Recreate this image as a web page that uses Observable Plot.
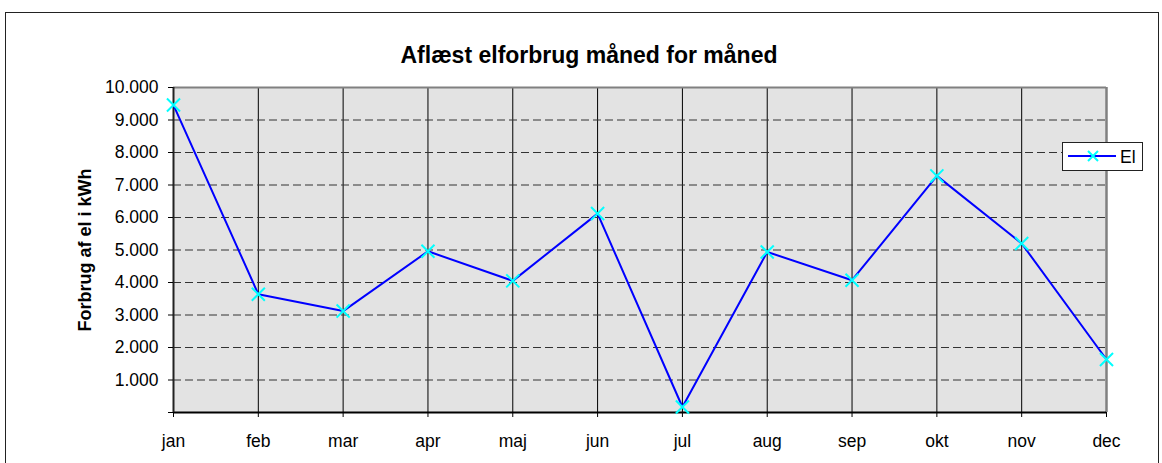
<!DOCTYPE html>
<html>
<head>
<meta charset="utf-8">
<script src="https://cdn.jsdelivr.net/npm/d3@7"></script>
<script src="https://cdn.jsdelivr.net/npm/@observablehq/plot@0.6"></script>
<style>
  html, body { margin: 0; padding: 0; background: #fff; }
  #wrap { position: relative; width: 1162px; height: 463px; overflow: hidden; font-family: "Liberation Sans", Arial, sans-serif; }
  #frame { position: absolute; left: 5px; top: 12px; width: 1154px; height: 470px; border: 1px solid #222; box-sizing: border-box; }
  #title { position: absolute; left: 0; width: 1178px; top: 44px; text-align: center; font-size: 23px; line-height: 23px; font-weight: bold; color: #000; }
  #chart { position: absolute; left: 0; top: 0; }
  #legend { position: absolute; left: 1062px; top: 142px; width: 81px; height: 29px; border: 1px solid #222; box-sizing: border-box; background: #fff; }
</style>
</head>
<body>
<div id="wrap">
  <div id="frame"></div>
  <div id="chart"></div>
  <div id="title"></div>
  <div id="legend"></div>
</div>
<script>
const titleText = "Aflæst elforbrug måned for måned";
const yLabel = "Forbrug af el i kWh";
const seriesName = "El";
const months = ["jan","feb","mar","apr","maj","jun","jul","aug","sep","okt","nov","dec"];
const values = [9460, 3640, 3120, 4960, 4050, 6120, 170, 4940, 4070, 7280, 5200, 1630];
const yTicks = [0,1000,2000,3000,4000,5000,6000,7000,8000,9000,10000];
const gridTicks = [1000,2000,3000,4000,5000,6000,7000,8000,9000];

const data = months.map((m, i) => ({month: m, value: values[i]}));
const fmt = d => d === 0 ? "" : d3.format(",")(d).replace(/,/g, ".");

const lineColor = "#0000ff";
const markColor = "#00ffff";

const chart = Plot.plot({
  width: 1162,
  height: 463,
  marginLeft: 173,
  marginRight: 56,
  marginTop: 87,
  marginBottom: 51,
  style: {fontFamily: "Liberation Sans, Arial, sans-serif", fontSize: "17.5px", color: "#000", background: "transparent", overflow: "visible"},
  x: {type: "point", domain: months, padding: 0, round: false},
  y: {domain: [0, 10000], round: false},
  marks: [
    Plot.frame({fill: "#e3e3e3", stroke: "none"}),
    Plot.ruleX(months, {stroke: "#000", strokeWidth: 1}),
    Plot.ruleY(gridTicks, {stroke: "#333", strokeWidth: 1, strokeDasharray: "8,4"}),
    Plot.ruleY([10000], {stroke: "#808080", strokeWidth: 2}),
    Plot.ruleX(["dec"], {stroke: "#808080", strokeWidth: 2.5}),
    Plot.ruleY([0], {stroke: "#000", strokeWidth: 2}),
    Plot.ruleX(["jan"], {stroke: "#222", strokeWidth: 2}),
    Plot.axisY({ticks: yTicks, tickSize: 5, tickPadding: 10, tickFormat: fmt, label: null, stroke: "#000"}),
    Plot.axisX({tickSize: 5, tickPadding: 17, label: null, stroke: "#000"}),
    Plot.text([yLabel], {frameAnchor: "left", rotate: -90, dx: -88, textAnchor: "middle", lineAnchor: "middle", fontWeight: "bold", fontSize: 18}),
    Plot.line(data, {x: "month", y: "value", stroke: lineColor, strokeWidth: 2}),
    Plot.dot(data, {x: "month", y: "value", symbol: "times", r: 6, stroke: markColor, strokeWidth: 2})
  ]
});
document.getElementById("chart").appendChild(chart);
document.getElementById("title").textContent = titleText;

// legend
const lg = d3.select("#legend").append("svg").attr("width", 79).attr("height", 27)
  .style("position", "absolute").style("left", "0").style("top", "0");
lg.append("line").attr("x1", 5).attr("x2", 53).attr("y1", 13).attr("y2", 13).attr("stroke", lineColor).attr("stroke-width", 2);
lg.append("path").attr("d", "M25,8L35,18M25,18L35,8").attr("stroke", markColor).attr("stroke-width", 2);
lg.append("text").attr("x", 57).attr("y", 20).attr("font-size", 17.5).attr("font-family", "Liberation Sans, Arial, sans-serif").text(seriesName);
</script>
</body>
</html>
